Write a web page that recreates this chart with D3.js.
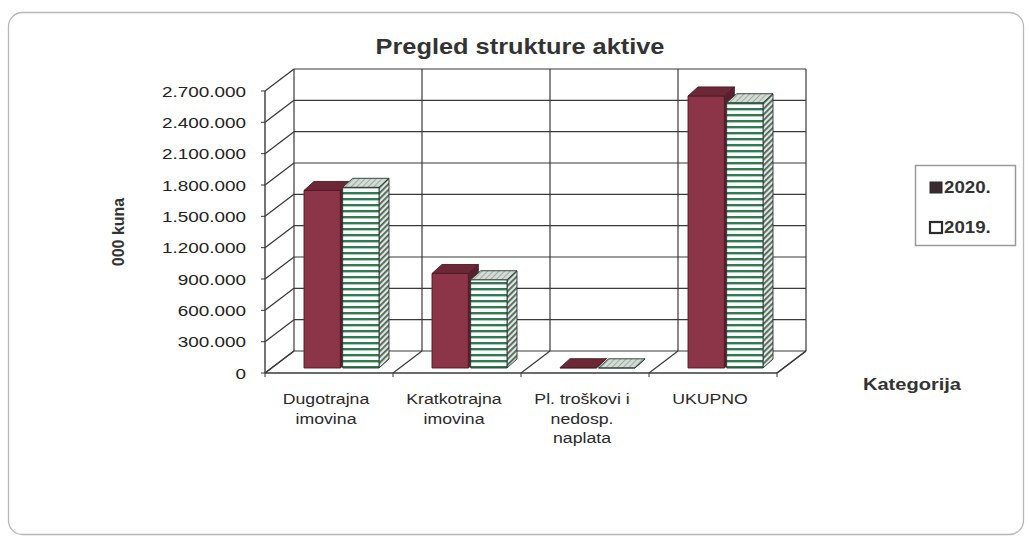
<!DOCTYPE html>
<html><head><meta charset="utf-8">
<script src="https://cdn.jsdelivr.net/npm/d3@7"></script>
<style>body{margin:0;background:#fff}svg{display:block}</style>
</head><body>
<svg id="c" width="1030" height="538"></svg>
<script>
// ---- data ----
const categories = ["Dugotrajna imovina", "Kratkotrajna imovina", "Pl. troškovi i nedosp. naplata", "UKUPNO"];
const categoryLines = [["Dugotrajna","imovina"],["Kratkotrajna","imovina"],["Pl. troškovi i","nedosp.","naplata"],["UKUPNO"]];
const seriesNames = ["2020.", "2019."];
const values2020 = [1700000, 905000, 3000, 2605000];
const values2019 = [1730000, 845000, 2000, 2540000];
const yTicks = [0, 300000, 600000, 900000, 1200000, 1500000, 1800000, 2100000, 2400000, 2700000];
const titleText = "Pregled strukture aktive";
const yTitle = "000 kuna";
const xTitle = "Kategorija";

// ---- layout ----
const svg = d3.select("#c");
const FONT = "Liberation Sans, Arial, sans-serif";
const SX = 1.18; // horizontal stretch of scanned text
const W = {dx: 29, dy: -22};   // wall depth
const BF = {dx: 7, dy: -5};    // bar front depth
const BD = {dx: 10, dy: -9};   // bar depth

const x = d3.scaleBand().domain(categories).range([265, 777]).padding(0);
const xs = d3.scaleBand().domain(seriesNames).range([32, 107]).paddingInner(0.06);
const y = d3.scaleLinear().domain([0, 2700000]).range([373, 91]);
const loc = d3.formatLocale({decimal: ",", thousands: ".", grouping: [3], currency: ["", ""]});
const fmt = loc.format(",");

function txt(g, px, py, s, o = {}) {
  return g.append("text")
    .attr("transform", `translate(${px},${py}) scale(${o.sx || SX},1)`)
    .attr("text-anchor", o.anchor || "middle")
    .attr("font-family", FONT)
    .attr("font-size", o.size || 15)
    .attr("font-weight", o.weight || "normal")
    .attr("fill", o.fill || "#2a2a2a")
    .text(s);
}

// patterns
const defs = svg.append("defs");
const pStripe = defs.append("pattern").attr("id", "stripe").attr("patternUnits", "userSpaceOnUse")
  .attr("width", 8).attr("height", 6);
pStripe.append("rect").attr("width", 8).attr("height", 6).attr("fill", "#ffffff");
pStripe.append("rect").attr("y", 0).attr("width", 8).attr("height", 2.4).attr("fill", "#2f7a52");
const pHatch = defs.append("pattern").attr("id", "hatch").attr("patternUnits", "userSpaceOnUse")
  .attr("width", 4).attr("height", 4).attr("patternTransform", "rotate(-45)");
pHatch.append("rect").attr("width", 4).attr("height", 4).attr("fill", "#e0e6e1");
pHatch.append("rect").attr("width", 4).attr("height", 1.8).attr("fill", "#4f6356");
const pTop = defs.append("pattern").attr("id", "tophatch").attr("patternUnits", "userSpaceOnUse")
  .attr("width", 4).attr("height", 4).attr("patternTransform", "rotate(-45)");
pTop.append("rect").attr("width", 4).attr("height", 4).attr("fill", "#d3dbd5");
pTop.append("rect").attr("width", 4).attr("height", 1).attr("fill", "#9eaaa1");

// outer border
svg.append("rect").attr("x", 8.5).attr("y", 12.5).attr("width", 1015).attr("height", 522)
  .attr("rx", 14).attr("fill", "#fff").attr("stroke", "#b8b8b8").attr("stroke-width", 1.3);

// title
txt(svg, 520, 54, titleText, {size: 21.5, weight: "bold", fill: "#333"});

const g = svg.append("g");
const LC = "#3a3a3a";
const x0 = x.range()[0], x1 = x.range()[1];
const yTop = y(2700000), yBot = y(0);
const line = (a, b, c, d, w = 1.2, col = LC) => g.append("line").attr("x1", a).attr("y1", b).attr("x2", c).attr("y2", d)
  .attr("stroke", col).attr("stroke-width", w);

// walls
g.append("path").attr("fill", "#fff").attr("d",
  `M${x0},${yBot}L${x0},${yTop}L${x0 + W.dx},${yTop + W.dy}L${x0 + W.dx},${yBot + W.dy}Z`);
g.append("rect").attr("x", x0 + W.dx).attr("y", yTop + W.dy).attr("width", x1 - x0).attr("height", yBot - yTop).attr("fill", "#fff");

// gridlines
yTicks.forEach(t => {
  const yy = y(t);
  line(x0, yy, x0 + W.dx, yy + W.dy, 1.3);
  line(x0 + W.dx, yy + W.dy, x1 + W.dx, yy + W.dy, 1.2);
  line(x0 - 4, yy, x0, yy, 1);
});
categories.concat([null]).forEach((c, i) => {
  const xx = c ? x(c) : x1;
  line(xx + W.dx, yTop + W.dy, xx + W.dx, yBot + W.dy, 1.2);
  line(xx, yBot, xx + W.dx, yBot + W.dy, 1.2);
  line(xx, yBot, xx, yBot + 4, 1);
});
line(x0, yTop, x0, yBot, 1.4);
line(x0, yBot, x1, yBot, 1.6);
line(x1, yBot, x1 + W.dx, yBot + W.dy, 1.3);

// bars
const seriesData = [values2020, values2019];
const styles = [
  {front: "#8c3448", top: "#6c2836", side: "#5a1f2c", stroke: "#4a1a24"},
  {front: "url(#stripe)", top: "url(#tophatch)", side: "url(#hatch)", stroke: "#24392c"}
];
categories.forEach((c, ci) => {
  seriesNames.forEach((s, si) => {
    const v = seriesData[si][ci];
    const st = styles[si];
    const bx = x(c) + xs(s) + BF.dx;
    const bw = xs.bandwidth();
    const yb = y(0) + BF.dy, yt = y(v) + BF.dy;
    const bg = g.append("g").attr("stroke", st.stroke).attr("stroke-width", 0.9).attr("stroke-linejoin", "round");
    bg.append("path").attr("fill", st.side).attr("d",
      `M${bx + bw},${yt}L${bx + bw + BD.dx},${yt + BD.dy}L${bx + bw + BD.dx},${yb + BD.dy}L${bx + bw},${yb}Z`);
    bg.append("rect").attr("x", bx).attr("y", yt).attr("width", bw).attr("height", Math.max(0, yb - yt)).attr("fill", st.front);
    bg.append("path").attr("fill", st.top).attr("d",
      `M${bx},${yt}L${bx + bw},${yt}L${bx + bw + BD.dx},${yt + BD.dy}L${bx + BD.dx},${yt + BD.dy}Z`);
  });
});

// y tick labels
yTicks.forEach(t => txt(svg, 246, y(t) + 5.5, fmt(t), {anchor: "end", size: 15.5, sx: 1.22, fill: "#222"}));

// category labels
categories.forEach((c, i) => {
  categoryLines[i].forEach((ln, li) => txt(svg, x(c) + x.bandwidth() / 2 - 3, 404 + li * 19.5, ln, {size: 15}));
});

// axis titles
svg.append("text").attr("transform", "translate(124,232) rotate(-90)").attr("text-anchor", "middle")
  .attr("font-family", FONT).attr("font-size", 16).attr("font-weight", "bold").attr("fill", "#333").text(yTitle);
txt(svg, 912, 390, xTitle, {size: 17, weight: "bold", fill: "#333"});

// legend
const lg = svg.append("g");
lg.append("rect").attr("x", 915.5).attr("y", 165.5).attr("width", 100).attr("height", 80)
  .attr("fill", "#fff").attr("stroke", "#9a9a9a").attr("stroke-width", 1.5);
const legendY = d3.scalePoint().domain(seriesNames).range([193, 233]);
seriesNames.forEach((s, i) => {
  const ly = legendY(s);
  lg.append("rect").attr("x", 930).attr("y", ly - 11).attr("width", 12).attr("height", 11)
    .attr("fill", i === 0 ? "#3b2a30" : "#fff").attr("stroke", "#2b2b2b").attr("stroke-width", i === 0 ? 1 : 2.2);
  txt(lg, 944, ly, s, {anchor: "start", size: 17, weight: "bold", fill: "#333", sx: 1.1});
});
</script>
</body></html>
